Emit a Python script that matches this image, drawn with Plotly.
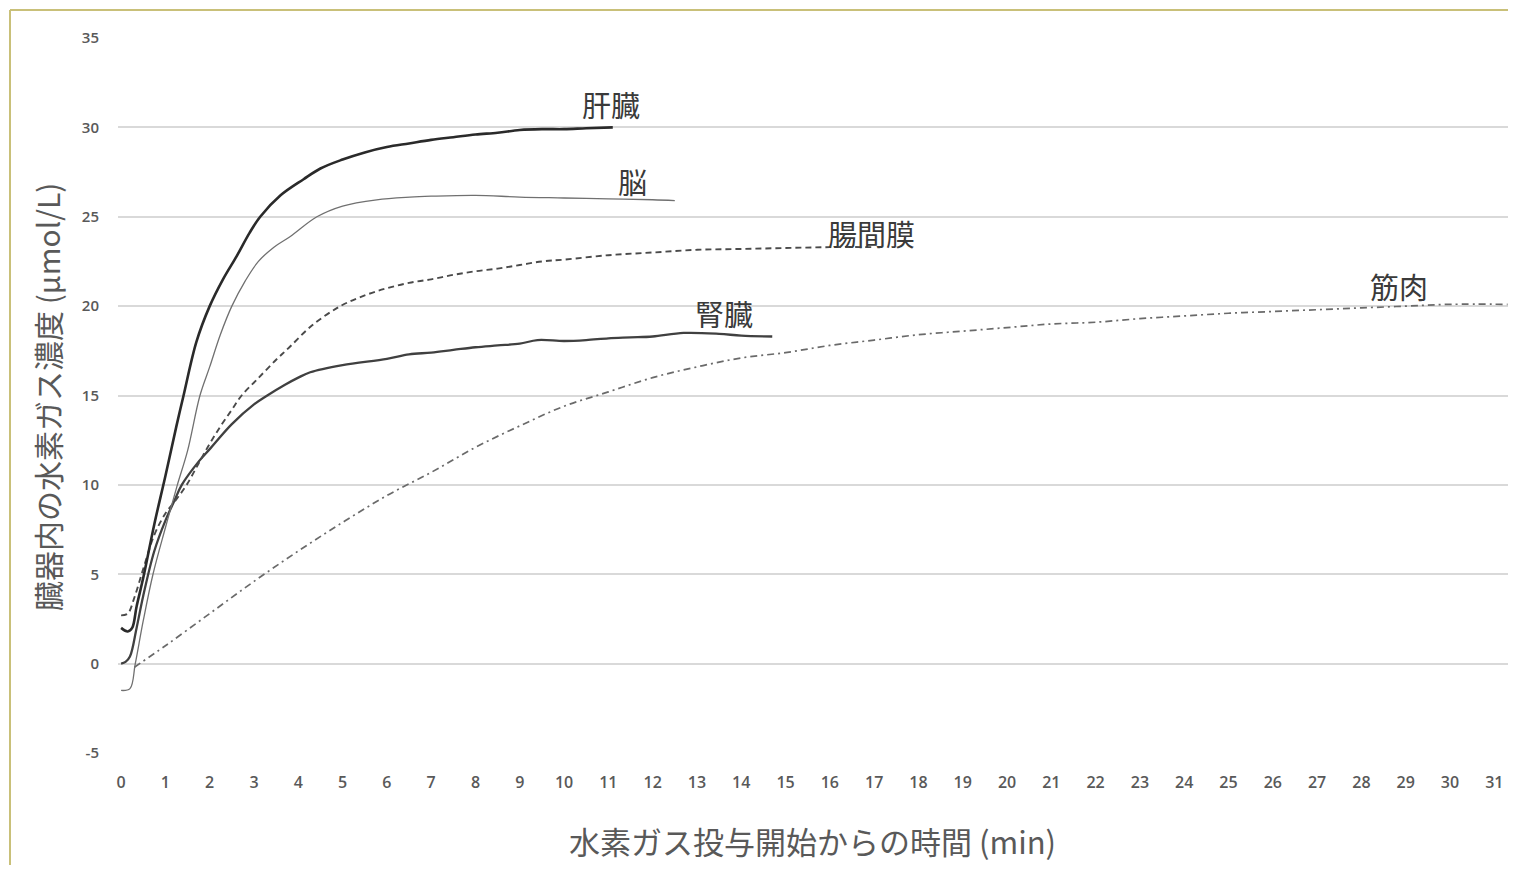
import plotly.graph_objects as go

# ---- data ----
liver_x = [0, 0.15, 0.25, 0.35, 0.5, 0.75, 1.0, 1.25, 1.41, 1.7, 2.0, 2.3, 2.61, 2.9, 3.14, 3.6, 4.12, 4.5, 5, 5.5, 6, 6.5, 7, 7.5, 8, 8.5, 9, 9.5, 10, 10.5, 11.1]
liver_y = [2.0, 1.8, 2.0, 3.2, 4.8, 7.8, 10.5, 13.3, 15.0, 18.0, 20.0, 21.5, 22.8, 24.1, 25.0, 26.2, 27.1, 27.7, 28.2, 28.6, 28.9, 29.1, 29.3, 29.45, 29.6, 29.7, 29.85, 29.9, 29.9, 29.95, 30.0]

brain_x = [0, 0.2, 0.32, 0.5, 0.72, 1.0, 1.27, 1.5, 1.78, 2.0, 2.24, 2.5, 2.8, 3.1, 3.45, 3.82, 4.42, 5.0, 5.77, 6.52, 7, 8, 9, 10, 11, 12, 12.5]
brain_y = [-1.5, -1.4, 0.0, 2.4, 5.0, 7.6, 10.0, 11.9, 15.0, 16.6, 18.4, 20.0, 21.4, 22.5, 23.3, 23.9, 25.0, 25.6, 25.95, 26.1, 26.15, 26.2, 26.1, 26.05, 26.0, 25.95, 25.9]

mes_x = [0, 0.15, 0.3, 0.5, 0.75, 1.0, 1.25, 1.48, 1.75, 2.0, 2.25, 2.5, 2.72, 3.07, 3.5, 3.8, 4.3, 4.95, 5.5, 6, 6.5, 7, 7.5, 8, 8.5, 9, 9.5, 10, 11, 12, 13, 14, 15, 16, 17]
mes_y = [2.7, 2.8, 3.7, 5.3, 7.2, 8.4, 9.2, 10.0, 11.2, 12.3, 13.3, 14.2, 15.0, 15.9, 17.0, 17.7, 18.9, 20.0, 20.6, 21.0, 21.3, 21.5, 21.75, 21.95, 22.1, 22.3, 22.5, 22.6, 22.85, 23.0, 23.15, 23.2, 23.25, 23.3, 23.3]

kid_x = [0, 0.1, 0.2, 0.35, 0.5, 0.75, 1.0, 1.2, 1.37, 1.75, 2.0, 2.5, 3.0, 3.3, 3.7, 4.0, 4.27, 5, 6, 6.5, 7, 7.5, 8, 8.5, 9, 9.4, 10, 10.5, 11, 11.5, 12, 12.7, 13.5, 14, 14.7]
kid_y = [0.0, 0.1, 0.4, 2.0, 3.8, 6.3, 8.0, 9.1, 10.0, 11.3, 12.0, 13.4, 14.5, 15.0, 15.6, 16.0, 16.3, 16.7, 17.05, 17.3, 17.4, 17.55, 17.7, 17.8, 17.9, 18.1, 18.05, 18.1, 18.2, 18.25, 18.3, 18.5, 18.45, 18.35, 18.3]

mus_x = [0.3, 1, 2, 3, 4, 5, 6, 7, 8, 9, 10, 11, 12, 13, 14, 15, 16, 17, 18, 19, 20, 21, 22, 23, 24, 25, 26, 27, 28, 29, 30, 31.3]
mus_y = [-0.2, 1.0, 2.8, 4.6, 6.3, 7.9, 9.4, 10.7, 12.1, 13.3, 14.4, 15.2, 16.0, 16.6, 17.1, 17.4, 17.8, 18.1, 18.4, 18.6, 18.8, 19.0, 19.1, 19.3, 19.45, 19.6, 19.7, 19.8, 19.9, 20.0, 20.1, 20.1]

labels = ["肝臓", "脳", "腸間膜", "腎臓", "筋肉"]
label_x = [11.05, 11.55, 16.95, 13.6, 28.85]
label_y = [31.3, 27.0, 24.1, 19.6, 21.1]

x_ticks = list(range(0, 32))
y_ticks = [-5, 0, 5, 10, 15, 20, 25, 30, 35]

x_title = "水素ガス投与開始からの時間 (min)"
y_title = "臓器内の水素ガス濃度 (µmol/L)"

# ---- figure geometry (page has an 8px body margin) ----
OFF = 8
W, H = 1500, 857
L, T = 118 - OFF, 38 - OFF
pw, ph = 1390, 715
R = W - L - pw
B = H - T - ph

def px2paper_x(px):
    return (px - OFF - L) / pw

def px2paper_y(py):
    return (T + ph - (py - OFF)) / ph

fig = go.Figure()
fig.add_trace(go.Scatter(x=mus_x, y=mus_y, mode="lines",
                         line=dict(color="#6a6a6a", width=1.7, dash="7px,4px,2px,4px", shape="spline"),
                         name=labels[4], showlegend=False))
fig.add_trace(go.Scatter(x=kid_x, y=kid_y, mode="lines",
                         line=dict(color="#404040", width=2.3, shape="spline"),
                         name=labels[3], showlegend=False))
fig.add_trace(go.Scatter(x=mes_x, y=mes_y, mode="lines",
                         line=dict(color="#4a4a4a", width=1.9, dash="6px,4px", shape="spline"),
                         name=labels[2], showlegend=False))
fig.add_trace(go.Scatter(x=brain_x, y=brain_y, mode="lines",
                         line=dict(color="#707070", width=1.3, shape="spline"),
                         name=labels[1], showlegend=False))
fig.add_trace(go.Scatter(x=liver_x, y=liver_y, mode="lines",
                         line=dict(color="#2a2a2a", width=2.6, shape="spline"),
                         name=labels[0], showlegend=False))

cjk = "Noto Sans CJK JP"
for t, lx, ly in zip(labels, label_x, label_y):
    fig.add_annotation(x=lx, y=ly, text=t, showarrow=False,
                       xanchor="center", yanchor="middle",
                       font=dict(family=cjk, size=29, color="#3a3a3a"))

fig.add_annotation(xref="paper", yref="paper", x=px2paper_x(812), y=px2paper_y(840),
                   text=x_title, showarrow=False, xanchor="center", yanchor="middle",
                   font=dict(family=cjk, size=31, color="#595959"))
fig.add_annotation(xref="paper", yref="paper", x=px2paper_x(47), y=px2paper_y(397),
                   text=y_title, showarrow=False, textangle=-90,
                   xanchor="center", yanchor="middle",
                   font=dict(family=cjk, size=30, color="#595959"))

# frame lines (top and left)
fig.add_shape(type="line", xref="paper", yref="paper",
              x0=px2paper_x(10), x1=px2paper_x(1516), y0=px2paper_y(10), y1=px2paper_y(10),
              line=dict(color="#c9c079", width=2))
fig.add_shape(type="line", xref="paper", yref="paper",
              x0=px2paper_x(10), x1=px2paper_x(10), y0=px2paper_y(10), y1=px2paper_y(873),
              line=dict(color="#c9c079", width=2))

fig.update_xaxes(range=[-0.07, 31.31], tickvals=x_ticks, ticktext=[str(v) for v in x_ticks],
                 showgrid=False, zeroline=False, showline=False,
                 ticks="", ticklabelstandoff=18,
                 tickfont=dict(family="Open Sans", size=16, color="#595959", weight=600))
fig.update_yaxes(range=[-5, 35], tickvals=y_ticks, ticktext=[str(v) for v in y_ticks],
                 showgrid=True, gridcolor="#d9d9d9", gridwidth=1.5,
                 zeroline=False, showline=False, ticks="", ticklabelstandoff=18,
                 tickfont=dict(family="Open Sans", size=15, color="#595959", weight=600))

fig.update_layout(width=W, height=H, margin=dict(l=L, r=R, t=T, b=B),
                  paper_bgcolor="white", plot_bgcolor="white")

fig.write_html("out.html")
